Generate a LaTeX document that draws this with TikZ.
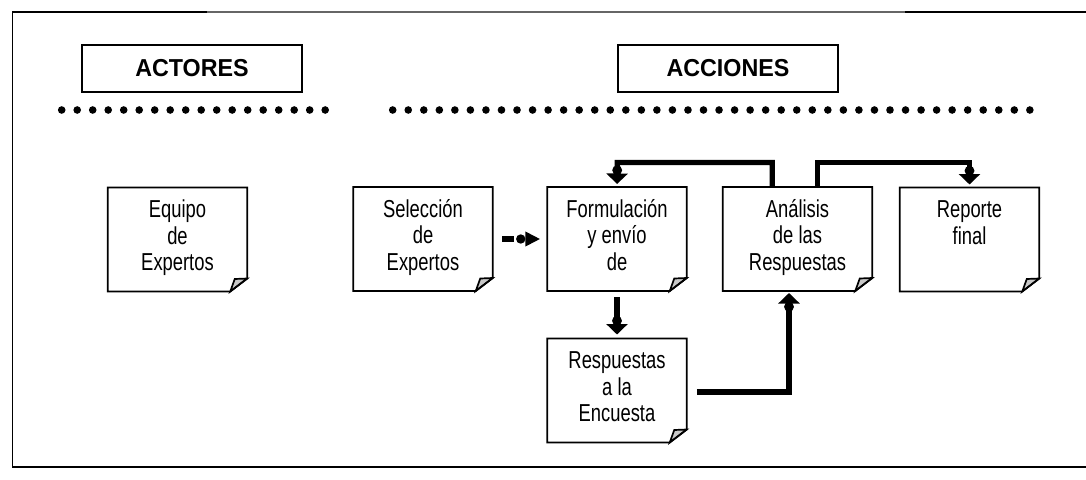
\documentclass[tikz,border=0pt]{standalone}
\usepackage{fontspec}
\setmainfont{Liberation Sans}
\newfontfamily\narrowf[FakeStretch=0.75]{Liberation Sans}
\newfontfamily\headf[FakeStretch=0.95]{Liberation Sans Bold}
\usetikzlibrary{arrows.meta,calc}
\definecolor{foldgray}{RGB}{200,200,200}
\newcommand{\notetxt}[2][139.5pt]{\parbox[c][104pt][t]{#1}{\centering\rule{0pt}{30pt}#2\par}}
\tikzset{
  x=1pt,y=-1pt,
  headbox/.style={draw=black,line width=1.6pt,minimum width=220pt,minimum height=47pt,inner sep=0pt,font=\headf\fontsize{24.5}{27}\selectfont},
  notebox/.style={inner sep=0pt,outer sep=0pt,font=\narrowf\fontsize{24.5}{26.5}\selectfont},
  noteline/.style={draw=black,line width=1.7pt,line join=miter},
  flowline/.style={line width=5.2pt,line join=miter,line cap=butt},
  flow/.style={flowline,-{Circle[length=9.5pt,width=9.5pt,sep=-1.5pt]Triangle[length=10.5pt,width=21pt]}},
  flowdash/.style={flowline,dash pattern=on 12pt off 30pt,-{Circle[length=9pt,width=9pt]Triangle[length=15pt,width=14pt]}},
  bigdot/.style={circle,fill=black,inner sep=0pt,minimum size=7.6pt}
}
\begin{document}
\begin{tikzpicture}
\useasboundingbox (0,0) rectangle (1086,479);
% frame
\coordinate (tl) at (12.5,12);
\coordinate (bl) at (12.5,467.3);
\coordinate (br) at (1086,467.3);
\coordinate (tr) at (1086,12);
\coordinate (t1) at (207,12);
\coordinate (t2) at (905,12);
\draw[line width=1.8pt,black] (t1) -- (tl) -- (bl) -- (br);
\draw[line width=1.4pt,black!60] (t1) -- (t2);
\draw[line width=1.8pt,black] (t2) -- (tr);
% headers
\node[headbox] (actores) at (192,68.5) {ACTORES};
\node[headbox] (acciones) at (728,68.5) {ACCIONES};
\foreach \i in {0,...,17} \node[bigdot] (da\i) at ({61.7+15.5*\i},110) {};
\foreach \i in {0,...,41} \node[bigdot] (db\i) at ({392.7+15.54*\i},110) {};
% notes
\node[notebox] (equipo) at (177.5,239.5) {\notetxt{Equipo\\de\\Expertos}};
\node[notebox] (seleccion) at (423,239) {\notetxt{Selección\\de\\Expertos}};
\node[notebox] (formulacion) at (617,239) {\notetxt{Formulación\\y envío\\de}};
\node[notebox] (analisis) at (797.5,239) {\notetxt[149.5pt]{Análisis\\de las\\Respuestas}};
\node[notebox] (reporte) at (969.5,239.5) {\notetxt{Reporte\\final}};
\node[notebox] (respuestas) at (617,390.5) {\notetxt{Respuestas\\a la\\Encuesta}};
\foreach \n in {equipo,seleccion,formulacion,analisis,reporte,respuestas}{
  \draw[noteline,fill=foldgray] ($(\n.south east)+(-17,0)$) -- ($(\n.south east)+(0,-13)$) -- ($(\n.south east)+(-12.5,-12.5)$) -- cycle;
  \draw[noteline] (\n.north west) -- (\n.north east) -- ($(\n.south east)+(0,-13)$) -- ($(\n.south east)+(-17,0)$) -- (\n.south west) -- cycle;
}
% connectors
\draw[flowdash,shorten <=9.5pt,shorten >=7pt] (seleccion.east) -- (formulacion.west);
\draw[flow,shorten >=3pt] ($(analisis.north west)+(49.5,0)$) |- ++(-155,-24.5) -- (formulacion.north);
\draw[flow,shorten >=3pt] ($(analisis.north west)+(94.5,0)$) -- ++(0,-24.5) -| (reporte.north);
\draw[flow,shorten <=6pt,shorten >=4pt] (formulacion.south) -- (respuestas.north);
\draw[flow,shorten <=10pt,shorten >=2pt] (respuestas.east |- 0,392) -| (analisis.south -| 789,0);
\end{tikzpicture}
\end{document}
